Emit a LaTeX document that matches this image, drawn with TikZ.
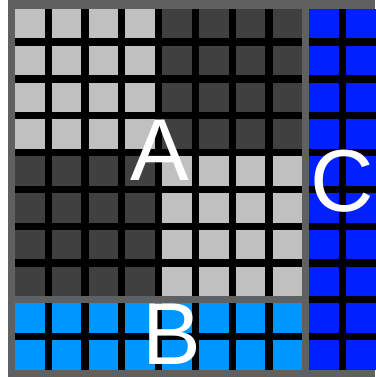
\documentclass[tikz,border=0pt]{standalone}
\usepackage{fontspec}
\setsansfont{Liberation Sans}
\definecolor{framegray}{RGB}{96,96,96}
\definecolor{lightcell}{RGB}{192,192,192}
\definecolor{darkcell}{RGB}{64,64,64}
\definecolor{skyblue}{RGB}{0,150,255}
\definecolor{deepblue}{RGB}{0,32,255}
\tikzset{
  cellfill/.style={fill=#1},
  letterlabel/.style={text=white, font=\sffamily\fontsize{88}{88}\selectfont, inner sep=0pt}
}
\newcommand{\pitch}{36.8}
\newcommand{\cellw}{29.5}

\begin{document}
\begin{tikzpicture}[x=1pt, y=-1pt]
  \useasboundingbox (0,0) rectangle (375,377);
  % frame and black grounds
  \fill[framegray] (8,0) rectangle (375,377);
  \fill[black] (15,9) rectangle (302.1,296.1);
  \fill[black] (15,303.4) rectangle (302.1,369.7);
  \fill[black] (309.4,9) rectangle (375.7,369.7);
  % region A, four quadrants
  \foreach \qx/\qy/\tone in {0/0/lightcell, 4/0/darkcell, 0/4/darkcell, 4/4/lightcell}
    \foreach \i in {0,...,3}
      \foreach \j in {0,...,3}
        \fill[cellfill=\tone] ({15+(\qx+\i)*\pitch}, {9+(\qy+\j)*\pitch}) rectangle ++(\cellw,\cellw);
  % region B
  \foreach \i in {0,...,7}
    \foreach \j in {8,9}
      \fill[cellfill=skyblue] ({15+\i*\pitch}, {9+\j*\pitch}) rectangle ++(\cellw,\cellw);
  % region C
  \foreach \i in {8,9}
    \foreach \j in {0,...,9}
      \fill[cellfill=deepblue] ({15+\i*\pitch}, {9+\j*\pitch}) rectangle ++(\cellw,\cellw);
  % labels
  \node[letterlabel] (labA) at (160,150) {A};
  \node[letterlabel] (labB) at (171.5,334.5) {B};
  \node[letterlabel] (labC) at (342.5,181.5) {C};
\end{tikzpicture}
\end{document}
